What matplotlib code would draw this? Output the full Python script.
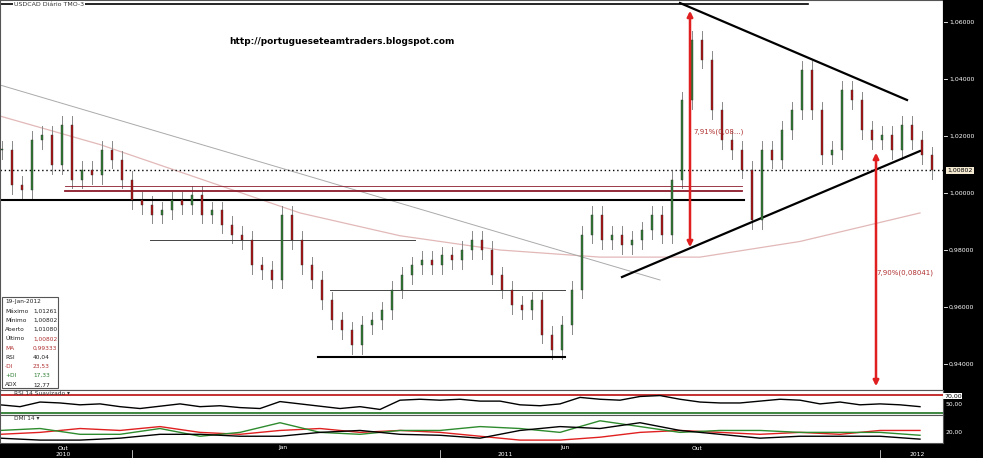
import matplotlib
matplotlib.use("Agg")
import matplotlib.pyplot as plt
import numpy as np

W, H = 983, 458

# closes, roughly every 10 px from left edge (Jun 2010 -> Jan 2012)
closes = [1.0151, 1.0028, 1.0011, 1.0186, 1.0204, 1.0098, 1.0239, 1.0046, 1.0081, 1.0063,
          1.0151, 1.0116, 1.0046, 0.9975, 0.9958, 0.9923, 0.9940, 0.9975, 0.9958, 0.9993,
          0.9923, 0.9940, 0.9888, 0.9853, 0.9835, 0.9747, 0.9730, 0.9695, 0.9923, 0.9835,
          0.9747, 0.9695, 0.9624, 0.9554, 0.9519, 0.9466, 0.9537, 0.9554, 0.9589, 0.9660,
          0.9712, 0.9747, 0.9765, 0.9747, 0.9782, 0.9765, 0.9800, 0.9835, 0.9800, 0.9712,
          0.9660, 0.9607, 0.9589, 0.9624, 0.9502, 0.9449, 0.9537, 0.9660, 0.9853, 0.9923,
          0.9835, 0.9853, 0.9817, 0.9835, 0.9870, 0.9923, 0.9853, 1.0046, 1.0326, 1.0537,
          1.0467, 1.0291, 1.0186, 1.0151, 1.0081, 0.9905, 1.0151, 1.0116, 1.0221, 1.0291,
          1.0432, 1.0291, 1.0133, 1.0151, 1.0362, 1.0326, 1.0221, 1.0186, 1.0204, 1.0151,
          1.0239, 1.0186, 1.0133, 1.0080]
ma_x = [0, 100, 200, 300, 400, 500, 600, 700, 800, 920]
ma_y = [1.0270, 1.0170, 1.0050, 0.9930, 0.9850, 0.9800, 0.9775, 0.9775, 0.9830, 0.9930]
rsi = [48, 44, 54, 52, 48, 50, 44, 40, 45, 50, 44, 46, 42, 40, 55, 50, 45, 40, 44, 38, 58, 60,
       58, 60, 56, 56, 48, 46, 50, 64, 60, 58, 66, 68, 60, 54, 52, 52, 56, 60, 58, 50, 54, 48,
       50, 48, 44]
minus_di = [18, 20, 24, 22, 26, 20, 18, 22, 24, 20, 22, 20, 16, 12, 12, 15, 20, 22, 20, 18, 20, 18, 22, 22]
plus_di = [22, 24, 18, 18, 24, 16, 20, 30, 20, 18, 22, 22, 26, 24, 20, 32, 26, 20, 22, 22, 20, 20, 20, 17]
adx = [14, 12, 12, 14, 18, 18, 16, 16, 20, 22, 18, 17, 14, 22, 26, 24, 30, 22, 18, 14, 16, 16, 16, 13]
price_ticks = [0.94, 0.96, 0.98, 1.00, 1.02, 1.04, 1.06]
date_labels = [(63, "Out"), (283, "Jan"), (565, "Jun"), (697, "Out")]
year_labels = [(63, "2010"), (505, "2011"), (917, "2012")]
info = [("19-Jan-2012", ""), ("Máximo", "1,01261"), ("Mínimo", "1,00802"), ("Aberto", "1,01080"),
        ("Último", "1,00802"), ("MA", "0,99333"), ("RSI", "40,04"), ("-DI", "23,53"),
        ("+DI", "17,33"), ("ADX", "12,77")]

fig = plt.figure(figsize=(W / 100, H / 100), dpi=100)
fig.patch.set_facecolor("black")

def px_axes(x0, y0, x1, y1):
    return fig.add_axes([x0 / W, 1 - y1 / H, (x1 - x0) / W, (y1 - y0) / H])

# ---- main price panel (pixel x, price y)
ax = px_axes(0, 0, 943, 390)
ax.set_facecolor("white")
ax.set_xlim(0, 943)
ymax = 1.0 + 193 / 2850
ymin = 1.0 - 197 / 2850
ax.set_ylim(ymin, ymax)
ax.set_xticks([]); ax.set_yticks([])
for s in ax.spines.values():
    s.set_color("#555555")

xs = np.arange(len(closes)) * 10 + 2
wick = 0.003
for i, c in enumerate(closes):
    o = closes[i - 1] if i > 0 else c
    col = "#2e7d32" if c >= o else "#b01010"
    ax.plot([xs[i], xs[i]], [min(o, c) - wick, max(o, c) + wick], color="#888888", lw=0.7, zorder=2)
    ax.bar(xs[i], max(abs(c - o), 0.0004), bottom=min(o, c), width=2.6, color=col,
           edgecolor="#333333", lw=0.3, zorder=3)

ax.plot(ma_x, ma_y, color="#e2b8b8", lw=0.9, zorder=1)
ax.plot([0, 660], [1.0 + (193 - 85) / 2850, 1.0 + (193 - 280) / 2850], color="#aaaaaa", lw=0.7)

def py(y):
    return 1.0 + (193 - y) / 2850

ax.plot([0, 808], [py(4), py(4)], color="black", lw=1.2)
ax.plot([0, 744], [py(200), py(200)], color="black", lw=1.5)
ax.plot([65, 742], [py(191), py(191)], color="#8b1a2a", lw=1.3)
ax.plot([65, 742], [py(186), py(186)], color="#8b1a2a", lw=0.6)
ax.plot([150, 415], [py(240), py(240)], color="#444444", lw=0.7)
ax.plot([330, 565], [py(290), py(290)], color="#444444", lw=0.7)
ax.plot([318, 565], [py(357), py(357)], color="black", lw=1.5)
ax.plot([0, 943], [1.00802, 1.00802], color="black", lw=1, ls=(0, (1, 2)))
ax.plot([680, 907], [py(3), py(100)], color="black", lw=1.6)
ax.plot([622, 920], [py(277), py(151)], color="black", lw=1.6)
ax.annotate("", xy=(690, py(250)), xytext=(690, py(8)),
            arrowprops=dict(arrowstyle="<|-|>", color="#e02020", lw=1.8, mutation_scale=8))
ax.annotate("", xy=(876, py(389)), xytext=(876, py(150)),
            arrowprops=dict(arrowstyle="<|-|>", color="#e02020", lw=1.8, mutation_scale=8))
ax.text(693, py(132), "7,91%(0,08...)", color="#b03030", fontsize=5, va="center")
ax.text(876, py(273), "7,90%(0,08041)", color="#b03030", fontsize=5, va="center")
ax.text(342, py(42), "http://portugueseteamtraders.blogspot.com", fontsize=6.5,
        fontweight="bold", ha="center", va="center")
ax.text(14, py(4), "USDCAD Diário TMO-3", fontsize=4.5, color="#333333", va="center",
        bbox=dict(facecolor="white", edgecolor="none", pad=0.5))
ax.add_patch(plt.Rectangle((2, py(388)), 56, py(297) - py(388), facecolor="white",
                           edgecolor="#555555", lw=0.8, zorder=5))
for i, (k, v) in enumerate(info):
    yy = py(302 + i * 9.2)
    kc = "#b03030" if k in ("MA", "-DI") else ("#2e7d32" if k == "+DI" else "#222222")
    vc = "#b03030" if k in ("MA", "-DI", "Último") else ("#2e7d32" if k == "+DI" else "#222222")
    ax.text(5, yy, k, fontsize=4.2, color=kc, va="center", zorder=6)
    ax.text(33, yy, v, fontsize=4.2, color=vc, va="center", zorder=6)

# ---- right price axis
ay = px_axes(943, 0, 983, 390)
ay.set_facecolor("black")
ay.set_ylim(ymin, ymax); ay.set_xlim(0, 1)
ay.set_xticks([]); ay.set_yticks([])
for t in price_ticks:
    ay.plot([0, 0.1], [t, t], color="white", lw=0.6)
    ay.text(0.15, t, f"{t:.5f}".replace(".", ","), color="white", fontsize=4.5, va="center")
ay.text(0.1, 1.00802, "1,00802", fontsize=4.5, va="center",
        bbox=dict(facecolor="#f3e8d0", edgecolor="none", pad=0.8))

# ---- RSI panel
ar = px_axes(0, 390, 943, 415)
ar.set_facecolor("white")
ar.set_xlim(0, 943); ar.set_ylim(26, 80)
ar.set_xticks([]); ar.set_yticks([])
ar.axhline(70, color="#c02020", lw=1.3)
ar.axhline(30, color="#2e7d32", lw=1.3)
ar.plot(np.arange(len(rsi)) * 20, rsi, color="black", lw=1)
ar.text(14, 72, "RSI 14 Suavizado ▾", fontsize=4.2, color="#333333", va="center")
for s in ar.spines.values():
    s.set_color("#555555")
fig.text(944 / W, 1 - 396 / H, "70,00", color="black", fontsize=4.5, va="center",
         bbox=dict(facecolor="white", edgecolor="none", pad=0.5))
fig.text(946 / W, 1 - 404 / H, "50,00", color="white", fontsize=4.3, va="center")

# ---- DMI panel
ad = px_axes(0, 415, 943, 443)
ad.set_facecolor("white")
ad.set_xlim(0, 943); ad.set_ylim(9, 38)
ad.set_xticks([]); ad.set_yticks([])
dx = np.arange(len(adx)) * 40
ad.plot(dx, minus_di, color="#e02020", lw=1)
ad.plot(dx, plus_di, color="#2e8b2e", lw=1)
ad.plot(dx, adx, color="black", lw=1)
ad.text(14, 34, "DMI 14 ▾", fontsize=4.2, color="#333333", va="center")
for s in ad.spines.values():
    s.set_color("#555555")
fig.text(946 / W, 1 - 432 / H, "20,00", color="white", fontsize=4.3, va="center")

# ---- date band
for x, lab in date_labels:
    fig.text(x / W, 1 - 448 / H, lab, color="white", fontsize=4.3, ha="center", va="center")
for x, lab in year_labels:
    fig.text(x / W, 1 - 455 / H, lab, color="white", fontsize=4.3, ha="center", va="center")
for x in [132, 440, 880]:
    fig.add_artist(plt.Line2D([x / W, x / W], [0, 8 / H], color="white", lw=0.5))

fig.savefig("out.png", dpi=100, facecolor="black")
